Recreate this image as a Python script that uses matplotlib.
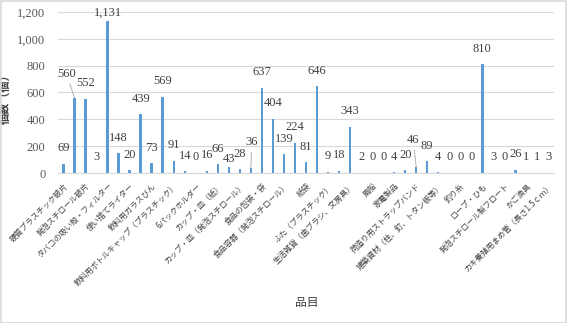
import matplotlib
matplotlib.use('Agg')
import matplotlib.pyplot as plt
from matplotlib.patches import Rectangle
from matplotlib.ticker import StrMethodFormatter

plt.rcParams['font.family'] = ['Noto Sans CJK JP', 'DejaVu Sans']

# 45 items, every other one is labelled on the axis (as in the original)
counts = [69, 560, 552, 3, 1131, 148, 20, 439, 73, 569, 91, 14, 0, 16, 66,
          43, 28, 36, 637, 404, 139, 224, 81, 646, 9, 18, 343, 2, 0, 0,
          4, 20, 46, 89, 4, 0, 0, 0, 810, 3, 0, 26, 1, 1, 3]
tick_labels = ['硬質プラスチック破片', '発泡スチロール破片', 'タバコの吸い殻・フィルター',
               '使い捨てライター', '飲料用ガラスびん', '飲料用ボトルキャップ（プラスチック）',
               '6パックホルダー', 'カップ・皿（紙）', 'カップ・皿（発泡スチロール）',
               '食品の包装・袋', '食品容器（発泡スチロール）', '紙袋', 'ふた（プラスチック）',
               '生活雑貨（歯ブラシ、文房具）', '風船', '家電製品', '荷造り用ストラップバンド',
               '建築資材（柱、釘、トタン板等）', '釣り糸', 'ロープ・ひも',
               '発泡スチロール製フロート', 'かご漁具', 'カキ養殖用まめ管（長さ1.5ｃｍ）']

bar_color = '#5B9BD5'
grid_color = '#D9D9D9'
text_color = '#404040'

fig = plt.figure(figsize=(5.67, 3.23), dpi=100)
ax = fig.add_axes([58 / 567, 150 / 323, 496 / 567, 161 / 323])

x = list(range(len(counts)))
ax.bar(x, counts, width=0.22, color=bar_color, zorder=3)

ax.set_xlim(-0.5, len(counts) - 0.5)
ax.set_ylim(0, 1200)
ax.set_yticks(range(0, 1201, 200))
ax.yaxis.set_major_formatter(StrMethodFormatter('{x:,.0f}'))
ax.grid(axis='y', color=grid_color, linewidth=0.8, zorder=0)
for s in ['top', 'right', 'left']:
    ax.spines[s].set_visible(False)
ax.spines['bottom'].set_color(grid_color)

ax.set_xticks(x[::2])
ax.set_xticklabels(tick_labels, rotation=45, ha='right', rotation_mode='anchor',
                   fontsize=5.7, color='#404040')
ax.tick_params(axis='x', length=0, pad=6)
ax.tick_params(axis='y', length=0, pad=9, labelsize=9, labelcolor='#595959')
for t in ax.get_yticklabels():
    t.set_family('Liberation Serif')

# data labels; a few are moved by hand in the original and get a leader line
moved = {1: (-5.8, 17.3), 4: (0, 6.3), 15: (0, 5.8), 17: (0.7, 18.7), 32: (-2.2, 19.4)}
leader = {1, 17, 32}
for i, v in enumerate(counts):
    dx, dy = moved.get(i, (0, 11.2))
    arrow = None
    if i in leader:
        arrow = dict(arrowstyle='-', color='#A6A6A6', lw=0.6, shrinkA=1, shrinkB=0)
    ax.annotate(f'{v:,}', xy=(i, v), xytext=(dx, dy), textcoords='offset points',
                ha='center', va='center', fontsize=9, color=text_color,
                family='Liberation Serif', arrowprops=arrow, zorder=4)

ax.set_ylabel('個数（個）', fontsize=8, fontweight='bold', color=text_color)
ax.yaxis.set_label_coords(-0.093, 0.48)
ax.set_xlabel('品目', fontsize=8.5, color=text_color)
ax.xaxis.set_label_coords(0.502, -0.807)
ax.xaxis.label.set_va('center')

fig.patches.append(Rectangle((0.5 / 567, 0.5 / 323), 565.5 / 567, 321.5 / 323,
                             transform=fig.transFigure, fill=False,
                             edgecolor=grid_color, linewidth=1.2))

fig.savefig('out.png', dpi=100)
